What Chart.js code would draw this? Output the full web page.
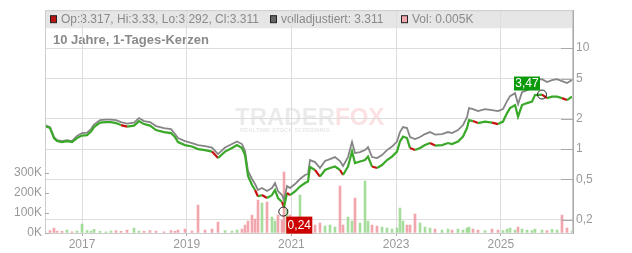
<!DOCTYPE html>
<html>
<head>
<meta charset="utf-8">
<script src="https://cdn.jsdelivr.net/npm/chart.js@4"></script>
<style>
  html, body { margin: 0; padding: 0; background: #fff; }
  #wrap { width: 632px; height: 253px; }
</style>
</head>
<body>
<div id="wrap"><canvas id="chart" width="632" height="253"></canvas></div>
<script>
// Zeitpunkte als Dezimaljahre
const zeit = [2016.293,2016.389,2016.465,2016.522,2016.618,2016.713,2016.809,2016.904,2017.000,2017.096,
  2017.172,2017.229,2017.344,2017.458,2017.554,2017.649,2017.745,2017.860,2017.993,2018.089,
  2018.184,2018.299,2018.414,2018.566,2018.700,2018.776,2018.834,2018.967,2019.101,2019.216,
  2019.350,2019.483,2019.598,2019.732,2019.865,2019.961,2020.056,2020.114,2020.171,2020.247,
  2020.305,2020.362,2020.438,2020.534,2020.629,2020.687,2020.744,2020.820,2020.859,2020.916,
  2020.973,2021.069,2021.164,2021.260,2021.317,2021.355,2021.451,2021.546,2021.642,2021.737,
  2021.833,2021.928,2021.986,2022.081,2022.158,2022.215,2022.310,2022.406,2022.463,2022.540,
  2022.635,2022.731,2022.826,2022.922,2023.017,2023.074,2023.132,2023.208,2023.266,2023.361,
  2023.457,2023.552,2023.648,2023.743,2023.877,2023.991,2024.068,2024.182,2024.278,2024.354,
  2024.393,2024.469,2024.564,2024.698,2024.832,2024.947,2025.042,2025.119,2025.176,2025.272,
  2025.329,2025.405,2025.501,2025.596,2025.653,2025.787,2025.883,2025.978,2026.074,2026.169,
  2026.265,2026.360];

// Kurs (Kerzen, gruen)
const kurs = [1.69,1.614,1.285,1.2,1.173,1.2,1.173,1.285,1.36,1.376,
  1.49,1.651,1.83,1.851,1.851,1.809,1.728,1.67,1.708,1.893,
  1.768,1.708,1.542,1.474,1.44,1.315,1.173,1.095,1.059,1.0,
  0.977,0.944,0.815,0.944,1.023,1.095,1.023,0.872,0.54,0.44,
  0.393,0.339,0.35,0.327,0.35,0.393,0.327,0.299,0.267,0.367,
  0.35,0.38,0.425,0.461,0.477,0.663,0.62,0.534,0.62,0.649,
  0.671,0.62,0.553,0.671,0.944,0.727,0.752,0.778,0.843,0.671,
  0.649,0.695,0.778,0.843,0.944,1.187,1.33,1.285,1.023,0.977,
  1.023,1.095,1.147,1.083,1.095,1.147,1.121,1.187,1.33,1.614,
  1.937,1.893,1.809,1.872,1.83,1.768,1.872,2.272,2.546,2.727,
  2.098,2.727,2.854,2.953,3.424,3.463,3.198,3.311,3.311,3.198,
  3.056,3.311];

// volladjustiert (grau)
const adjustiert = [1.728,1.651,1.315,1.228,1.2,1.228,1.2,1.345,1.44,1.457,
  1.578,1.748,1.937,1.959,1.959,1.937,1.851,1.789,1.83,2.027,
  1.893,1.851,1.69,1.614,1.578,1.408,1.285,1.2,1.147,1.095,
  1.071,1.035,0.892,1.035,1.121,1.187,1.121,0.955,0.606,0.505,
  0.45,0.393,0.411,0.384,0.411,0.461,0.384,0.35,0.313,0.43,
  0.411,0.45,0.505,0.553,0.566,0.778,0.743,0.649,0.761,0.796,
  0.833,0.761,0.679,0.833,1.173,0.913,0.934,0.977,1.047,0.833,
  0.815,0.872,0.977,1.059,1.187,1.474,1.651,1.614,1.315,1.256,
  1.315,1.408,1.474,1.392,1.408,1.474,1.44,1.542,1.728,2.074,
  2.546,2.489,2.378,2.489,2.433,2.378,2.489,2.987,3.348,3.585,
  2.79,3.668,3.839,4.018,4.823,4.933,4.607,4.823,4.933,4.713,
  4.503,4.823];

// Volumen in K
const volumen = [8,12,25,10,8,15,6,10,45,12,
  10,18,8,6,10,12,8,15,25,10,
  8,12,10,6,12,8,15,20,10,140,
  15,20,55,12,10,15,20,40,60,90,
  70,165,150,155,80,60,90,65,305,120,
  90,60,190,70,50,60,40,50,35,40,
  30,235,40,80,60,175,50,260,60,40,
  35,30,25,20,25,125,60,40,40,95,
  50,30,25,20,15,20,15,20,15,25,
  30,20,15,12,20,15,12,20,25,15,
  30,20,15,12,20,15,12,18,15,90,
  25,10];

const jahre = [2017, 2019, 2021, 2023, 2025];
const kursTicks = [0.2, 0.5, 1, 2, 5, 10];
const volTicks = [0, 100, 200, 300];

// Hoch / Tief Markierungen
const extremZeit = [2025.787, 2020.845];
const extremWert = [3.47, 0.24];

const grau = '#999';
const fmt = v => String(v).replace('.', ',');

const volFarben = volumen.map((v, i) =>
  (i > 0 && kurs[i] < kurs[i - 1]) ? 'rgba(240,150,160,0.85)' : 'rgba(150,215,140,0.85)');

const rahmen = {
  id: 'rahmen',
  beforeDraw(chart) {
    const { ctx, chartArea: a } = chart;
    ctx.save();
    // Kopfzeile
    ctx.fillStyle = '#e6e6e6';
    ctx.fillRect(a.left, a.top, a.right - a.left, 18);

    ctx.font = '12px "Liberation Sans", Arial, sans-serif';
    ctx.textBaseline = 'middle';
    const legende = [
      { x: 50, farbe: '#b81414', text: 'Op:3.317, Hi:3.33, Lo:3.292, Cl:3.311' },
      { x: 270, farbe: '#666', text: 'volladjustiert: 3.311' },
      { x: 401, farbe: '#f2a6ae', text: 'Vol: 0.005K' }
    ];
    legende.forEach(l => {
      ctx.fillStyle = l.farbe;
      ctx.fillRect(l.x, a.top + 5.5, 7, 7);
      ctx.strokeStyle = '#222';
      ctx.lineWidth = 1;
      ctx.strokeRect(l.x + 0.5, a.top + 5.5, 6, 7);
      ctx.fillStyle = '#8a8a8a';
      ctx.fillText(l.text, l.x + 11, a.top + 9.5);
    });

    ctx.font = 'bold 13px "Liberation Sans", Arial, sans-serif';
    ctx.fillStyle = '#8a8a8a';
    ctx.fillText('10 Jahre, 1-Tages-Kerzen', 53, 40);

    // Wasserzeichen
    ctx.font = 'bold 24px "Liberation Sans", Arial, sans-serif';
    ctx.textBaseline = 'alphabetic';
    ctx.fillStyle = 'rgba(0,0,0,0.08)';
    ctx.fillText('TRADER', 235, 125);
    const w = ctx.measureText('TRADER').width;
    ctx.fillStyle = 'rgba(235,90,90,0.18)';
    ctx.fillText('FOX', 235 + w, 125);
    ctx.font = 'bold 6px "Liberation Sans", Arial, sans-serif';
    ctx.fillStyle = 'rgba(0,0,0,0.1)';
    ctx.fillText('REALTIME STOCK SCREENING', 240, 132);
    ctx.restore();
  },
  afterDraw(chart) {
    const { ctx, chartArea: a, scales } = chart;
    ctx.save();
    ctx.strokeStyle = '#ccc';
    ctx.lineWidth = 1;
    ctx.strokeRect(a.left + 0.5, a.top + 0.5, a.right - a.left - 1, a.bottom - a.top);

    // kurze Striche an den Achsen
    ctx.strokeStyle = '#aaa';
    kursTicks.forEach(t => {
      const y = Math.round(scales.kurs.getPixelForValue(t)) + 0.5;
      ctx.beginPath(); ctx.moveTo(a.right - 12, y); ctx.lineTo(a.right, y); ctx.stroke();
    });
    volTicks.forEach(t => {
      const y = Math.round(scales.vol.getPixelForValue(t)) + 0.5;
      ctx.beginPath(); ctx.moveTo(a.left, y); ctx.lineTo(a.left + 4, y); ctx.stroke();
    });

    // Hoch / Tief
    extremZeit.forEach((t, i) => {
      const x = scales.x.getPixelForValue(t);
      const y = scales.kurs.getPixelForValue(extremWert[i]);
      ctx.strokeStyle = '#222';
      ctx.lineWidth = 1;
      ctx.beginPath(); ctx.arc(x, y, 4.5, 0, Math.PI * 2); ctx.stroke();
      const hoch = i === 0;
      const bx = hoch ? x - 28 : x + 3;
      const by = hoch ? y - 18 : y + 5;
      const bh = hoch ? 14 : 17;
      ctx.fillStyle = hoch ? '#0a9a0a' : '#cc0000';
      ctx.fillRect(bx, by, 26, bh);
      ctx.fillStyle = '#fff';
      ctx.font = '12px "Liberation Sans", Arial, sans-serif';
      ctx.textAlign = 'center';
      ctx.textBaseline = 'middle';
      ctx.fillText(fmt(extremWert[i]), bx + 13, by + bh / 2 + 0.5);
    });
    ctx.restore();
  }
};

Chart.defaults.font.family = '"Liberation Sans", Arial, sans-serif';
Chart.defaults.font.size = 12;
Chart.defaults.color = grau;

new Chart(document.getElementById('chart'), {
  type: 'line',
  data: {
    datasets: [
      {
        type: 'bar',
        label: 'Vol',
        data: zeit.map((t, i) => ({ x: t, y: volumen[i] })),
        yAxisID: 'vol',
        backgroundColor: volFarben,
        barThickness: 2,
        order: 3
      },
      {
        label: 'volladjustiert',
        data: zeit.map((t, i) => ({ x: t, y: adjustiert[i] })),
        yAxisID: 'kurs',
        borderColor: '#858585',
        borderWidth: 1.8,
        pointRadius: 0,
        tension: 0,
        order: 2
      },
      {
        label: 'Kurs',
        data: zeit.map((t, i) => ({ x: t, y: kurs[i] })),
        yAxisID: 'kurs',
        borderColor: '#3aa828',
        borderWidth: 2.2,
        pointRadius: 0,
        tension: 0,
        segment: {
          // kurze Ruecksetzer (Delle) rot wie die roten Kerzen
          borderColor: c => {
            const i = c.p1DataIndex;
            const r = kurs[i] / kurs[i - 1];
            const erholt = i + 1 < kurs.length && kurs[i + 1] > kurs[i];
            return (r < 0.97 && r > 0.85 && erholt) ? '#c81010' : undefined;
          }
        },
        order: 1
      }
    ]
  },
  options: {
    responsive: false,
    animation: false,
    layout: { padding: { top: 10, left: 0, right: 0, bottom: 0 } },
    plugins: { legend: { display: false }, tooltip: { enabled: false } },
    scales: {
      x: {
        type: 'linear',
        offset: false,
        min: 2016.293,
        max: 2026.379,
        afterBuildTicks: s => { s.ticks = jahre.map(v => ({ value: v })); },
        afterFit: s => { s.height = 20; },
        ticks: { callback: v => String(v), padding: 1, maxRotation: 0 },
        grid: { color: '#ddd', tickColor: '#aaa', tickLength: 3, offset: false },
        border: { color: '#ccc' }
      },
      vol: {
        type: 'linear',
        position: 'left',
        min: 0,
        max: 1115,
        afterBuildTicks: s => { s.ticks = volTicks.map(v => ({ value: v })); },
        afterFit: s => { s.width = 45; },
        ticks: { callback: v => v + 'K', padding: 3 },
        grid: { drawOnChartArea: false, drawTicks: false },
        border: { color: '#bbb' }
      },
      kurs: {
        type: 'logarithmic',
        position: 'right',
        min: 0.1473,
        max: 23.77,
        afterBuildTicks: s => { s.ticks = kursTicks.map(v => ({ value: v })); },
        afterFit: s => { s.width = 59; },
        ticks: { callback: v => fmt(v), padding: 3 },
        grid: { color: '#ddd', drawTicks: false },
        border: { color: '#aaa' }
      }
    }
  },
  plugins: [rahmen]
});
</script>
</body>
</html>
